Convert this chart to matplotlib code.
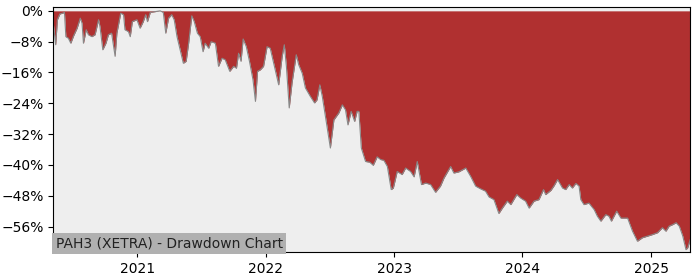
import numpy as np
import pandas as pd
import matplotlib
matplotlib.use('Agg')
import matplotlib.pyplot as plt
import matplotlib.ticker as mticker
import matplotlib.dates as mdates

# drawdown values (%)
dates = [
    '2020-05-07', '2020-05-14', '2020-05-19', '2020-05-26', '2020-06-03', '2020-06-08',
    '2020-06-12', '2020-06-19', '2020-06-26', '2020-07-04', '2020-07-14', '2020-07-23',
    '2020-07-28', '2020-08-01', '2020-08-09', '2020-08-15', '2020-08-25', '2020-09-03',
    '2020-09-13', '2020-09-17', '2020-09-25', '2020-10-04', '2020-10-11', '2020-10-20',
    '2020-10-30', '2020-11-04', '2020-11-15', '2020-11-23', '2020-11-27', '2020-12-07',
    '2020-12-12', '2020-12-18', '2020-12-31', '2021-01-09', '2021-01-18', '2021-01-25',
    '2021-01-30', '2021-02-07', '2021-02-21', '2021-03-07', '2021-03-16', '2021-03-23',
    '2021-03-31', '2021-04-09', '2021-04-16', '2021-04-24', '2021-05-03', '2021-05-12',
    '2021-05-20', '2021-05-27', '2021-06-05', '2021-06-12', '2021-06-21', '2021-06-29',
    '2021-07-07', '2021-07-13', '2021-07-23', '2021-07-30', '2021-08-11', '2021-08-20',
    '2021-08-30', '2021-09-08', '2021-09-21', '2021-10-02', '2021-10-10', '2021-10-16',
    '2021-10-23', '2021-10-29', '2021-11-07', '2021-11-16', '2021-11-26', '2021-12-03',
    '2021-12-09', '2021-12-17', '2021-12-26', '2022-01-05', '2022-01-14', '2022-01-26',
    '2022-02-07', '2022-02-17', '2022-02-23', '2022-03-01', '2022-03-09', '2022-03-17',
    '2022-03-29', '2022-04-05', '2022-04-15', '2022-04-24', '2022-05-08', '2022-05-20',
    '2022-05-27', '2022-06-04', '2022-06-11', '2022-06-20', '2022-07-04', '2022-07-14',
    '2022-07-28', '2022-08-07', '2022-08-16', '2022-08-23', '2022-09-01', '2022-09-11',
    '2022-09-18', '2022-09-23', '2022-09-30', '2022-10-12', '2022-10-24', '2022-11-03',
    '2022-11-14', '2022-11-24', '2022-12-03', '2022-12-13', '2022-12-24', '2022-12-30',
    '2023-01-10', '2023-01-24', '2023-02-03', '2023-02-17', '2023-02-27', '2023-03-08',
    '2023-03-20', '2023-04-01', '2023-04-15', '2023-04-29', '2023-05-13', '2023-05-23',
    '2023-06-11', '2023-06-20', '2023-07-04', '2023-07-24', '2023-08-07', '2023-08-21',
    '2023-09-04', '2023-09-18', '2023-09-28', '2023-10-12', '2023-10-26', '2023-11-05',
    '2023-11-19', '2023-11-29', '2023-12-16', '2023-12-27', '2024-01-10', '2024-01-20',
    '2024-02-03', '2024-02-17', '2024-03-01', '2024-03-07', '2024-03-22', '2024-03-31',
    '2024-04-10', '2024-04-24', '2024-05-03', '2024-05-13', '2024-05-22', '2024-06-01',
    '2024-06-10', '2024-06-15', '2024-06-24', '2024-07-08', '2024-07-23', '2024-08-01',
    '2024-08-11', '2024-08-25', '2024-09-03', '2024-09-10', '2024-09-25', '2024-10-07',
    '2024-10-26', '2024-11-09', '2024-11-23', '2024-12-07', '2024-12-21', '2025-01-04',
    '2025-01-19', '2025-02-02', '2025-02-12', '2025-02-21', '2025-03-03', '2025-03-13',
    '2025-03-22', '2025-04-01', '2025-04-10', '2025-04-15', '2025-04-22',
]
drawdown = [
    -3.0, -8.8, -2.3, -0.8, -0.6, -0.4,
    -6.7, -7.1, -8.4, -6.5, -4.5, -1.9,
    -3.2, -8.4, -4.9, -6.2, -6.7, -6.2,
    -2.3, -4.1, -10.1, -8.4, -6.2, -5.8,
    -11.8, -5.8, -0.6, -1.0, -4.9, -5.4,
    -6.7, -2.8, -2.3, -4.5, -2.8, -1.0,
    -2.8, -0.4, -0.2, 0.0, -0.4, -5.8,
    -1.9, -1.0, -2.3, -6.7, -10.1, -13.6,
    -13.1, -8.4, -1.3, -2.8, -5.8, -6.7,
    -10.6, -8.4, -9.7, -8.0, -8.4, -14.4,
    -12.3, -12.7, -15.7, -14.4, -14.9, -11.0,
    -13.1, -7.3, -9.3, -13.1, -17.9, -23.5,
    -15.7, -15.3, -14.4, -9.3, -9.7, -14.4,
    -19.2, -11.8, -8.8, -14.4, -25.2, -18.7,
    -11.4, -14.0, -16.2, -20.0, -22.2, -23.9,
    -23.1, -19.2, -22.2, -27.4, -35.6, -28.3,
    -26.5, -24.4, -25.7, -29.6, -26.1, -28.7,
    -26.1, -26.1, -35.6, -39.1, -39.3, -40.1,
    -37.9, -38.6, -38.8, -40.4, -46.4, -46.0,
    -41.7, -42.5, -40.8, -41.7, -43.1, -39.1,
    -45.1, -44.7, -45.1, -47.1, -45.5, -43.4,
    -40.4, -42.1, -41.8, -40.8, -43.0, -45.5,
    -46.2, -46.8, -48.3, -49.0, -52.6, -51.2,
    -49.4, -50.3, -47.7, -48.6, -49.4, -51.2,
    -49.4, -49.0, -46.4, -47.7, -46.6, -45.4,
    -43.8, -46.0, -46.4, -45.1, -46.0, -44.8,
    -45.5, -49.0, -50.3, -49.9, -51.6, -53.3,
    -54.6, -52.9, -53.3, -54.6, -52.0, -53.8,
    -53.8, -57.2, -59.8, -58.9, -58.5, -58.1,
    -57.6, -56.3, -57.2, -55.9, -55.5, -55.0,
    -55.9, -58.5, -62.0, -61.5, -59.4,
]
title = 'PAH3 (XETRA) - Drawdown Chart'

dd = pd.Series(drawdown, index=pd.to_datetime(dates))

fig = plt.figure(figsize=(7, 2.8), dpi=100)
ax = fig.add_axes([0.076, 0.1, 0.91, 0.875])
ax.set_facecolor('#eeeeee')

ax.fill_between(dd.index, dd.values, 0, color='#b03030', linewidth=0)
ax.plot(dd.index, dd.values, color='#888888', linewidth=0.8)

ax.set_xlim(dd.index[0], dd.index[-1])
ax.set_ylim(-62.6, 1.0)
ax.xaxis.set_major_locator(mdates.YearLocator())
ax.xaxis.set_major_formatter(mdates.DateFormatter('%Y'))
ax.yaxis.set_major_locator(mticker.MultipleLocator(8))
ax.yaxis.set_major_formatter(mticker.FuncFormatter(
    lambda v, p: '{:d}%'.format(int(round(v))).replace('-', '\u2212')))

ax.text(0.004, 0.008, title, transform=ax.transAxes, fontsize=10, color='#222222',
        ha='left', va='bottom',
        bbox=dict(facecolor='#b0b0b0', edgecolor='none', pad=2.5))

fig.savefig('out.png', dpi=100)
